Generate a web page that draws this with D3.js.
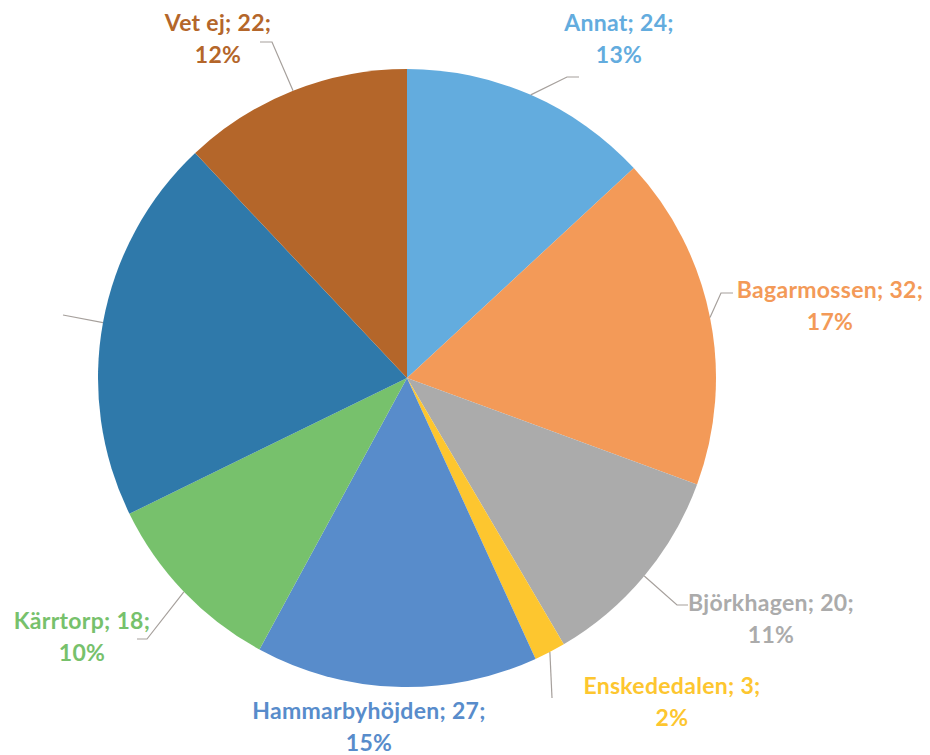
<!DOCTYPE html>
<html><head><meta charset="utf-8">
<script src="https://cdn.jsdelivr.net/npm/d3@7"></script>
<style>html,body{margin:0;padding:0;background:#fff;}svg{display:block;}</style>
</head><body>
<svg id="chart" width="930" height="755"></svg>
<script>
const categories = ["Annat","Bagarmossen","Björkhagen","Enskededalen","Hammarbyhöjden","Kärrtorp","Övrigt","Vet ej"];
const values = [24,32,20,3,27,18,37,22];
const colors = ["#63ACDE","#F39A58","#ABABAB","#FDC62F","#588CCB","#77C16C","#2F79AA","#B4662A"];
const showLabel = [true,true,true,true,true,true,false,true];

// layout: label centre x, first baseline y, leader elbow and end points
const labelLayout = [
  {x:619,y:31, elbow:[567,77], end:[579,77]},
  {x:830,y:298, elbow:[721,293], end:[733,293]},
  {x:771,y:611, elbow:[677,605], end:[688,605]},
  {x:672,y:694, elbow:[552,698], end:null},
  {x:369,y:719, elbow:null, end:null},
  {x:82,y:629, elbow:[147,639], end:[137,639]},
  {x:0,y:0, elbow:[63,315], end:null},
  {x:218,y:31, elbow:[272,42], end:[260,42]}
];

const svg = d3.select("#chart");
const cx = 407, cy = 378, r = 309;
const total = d3.sum(values);
const data = categories.map((c,i)=>({name:c, value:values[i], color:colors[i], i}));
const pie = d3.pie().value(d=>d.value).sort(null);
const arcs = pie(data);
const arc = d3.arc().innerRadius(0).outerRadius(r);
const g = svg.append("g").attr("transform",`translate(${cx},${cy})`);
g.selectAll("path").data(arcs).join("path").attr("d",arc).attr("fill",d=>d.data.color);

// leader lines
arcs.forEach(a=>{
  const L = labelLayout[a.data.i];
  if(!L.elbow) return;
  const mid = (a.startAngle+a.endAngle)/2;
  const sx = cx + r*Math.sin(mid), sy = cy - r*Math.cos(mid);
  const pts = [[sx,sy],L.elbow];
  if(L.end) pts.push(L.end);
  svg.append("path").attr("d",d3.line()(pts)).attr("fill","none")
    .attr("stroke","#A6A09C").attr("stroke-width",1.2);
});

// labels
arcs.forEach(a=>{
  const i = a.data.i;
  if(!showLabel[i]) return;
  const L = labelLayout[i];
  const pct = Math.round(a.data.value/total*100);
  const t = svg.append("text").attr("text-anchor","middle")
    .attr("font-family","Lato, 'Open Sans', sans-serif").attr("font-weight","bold")
    .attr("font-size",23).attr("letter-spacing",0.3).attr("fill",a.data.color);
  t.append("tspan").attr("x",L.x).attr("y",L.y).text(`${a.data.name}; ${a.data.value};`);
  t.append("tspan").attr("x",L.x).attr("y",L.y+32).text(`${pct}%`);
});
</script>
</body></html>
